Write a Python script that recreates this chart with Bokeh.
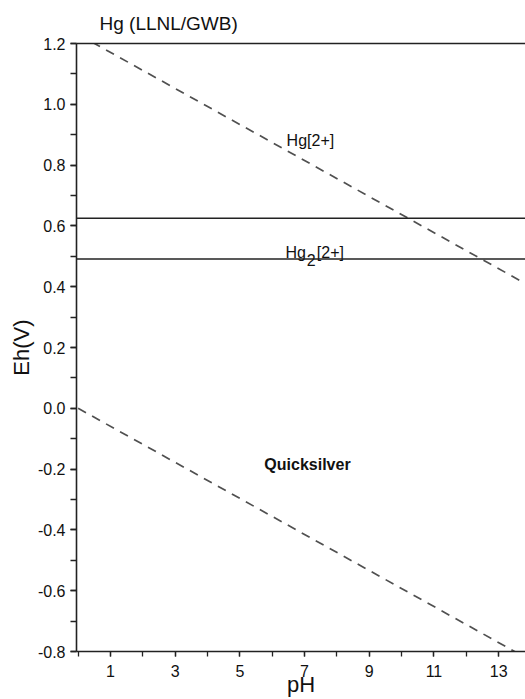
from bokeh.plotting import figure
from bokeh.models import (FixedTicker, NumeralTickFormatter, Span, LinearAxis,
                          Range1d)
from bokeh.core.properties import value
from bokeh.embed import file_html
from bokeh.resources import INLINE

# ---- data ----
x_ticks = [1, 3, 5, 7, 9, 11, 13]
x_minor = [0, 1, 2, 3, 4, 5, 6, 7, 8, 9, 10, 11, 12, 13]
y_ticks = [-0.8, -0.6, -0.4, -0.2, 0.0, 0.2, 0.4, 0.6, 0.8, 1.0, 1.2]
y_minor = [-0.8, -0.7, -0.6, -0.5, -0.4, -0.3, -0.2, -0.1, 0.0, 0.1, 0.2,
           0.3, 0.4, 0.5, 0.6, 0.7, 0.8, 0.9, 1.0, 1.1, 1.2]

water_upper_ph = [0.0, 14.0]
water_upper_eh = [1.23, 0.40]
water_lower_ph = [0.0, 14.0]
water_lower_eh = [0.0, -0.83]

boundary_eh = [0.625, 0.491]   # Hg2+/Hg2 2+ and Hg2 2+/Hg(l)

field_names = ["Hg[2+]"]
field_ph = [7.18]
field_eh = [0.882]

bold_names = ["Quicksilver"]
bold_ph = [7.09]
bold_eh = [-0.184]

# Hg2[2+] label pieces (main text, subscript)
hg2_main = ["Hg", "[2+]"]
hg2_main_ph = [6.41, 7.38]
hg2_main_eh = [0.512, 0.512]
hg2_sub = ["2"]
hg2_sub_ph = [7.07]
hg2_sub_eh = [0.489]

FONT = "Liberation Sans"
INK = "#111111"

p = figure(width=525, height=699, output_backend="svg", toolbar_location=None,
           x_range=Range1d(-0.05, 13.83), y_range=Range1d(-0.8, 1.2),
           min_border_left=76, min_border_right=0, min_border_top=43,
           min_border_bottom=46, title="Hg (LLNL/GWB)")
p.background_fill_color = "white"
p.border_fill_color = "white"
p.outline_line_color = None
p.grid.visible = False

p.title.align = "left"
p.title.offset = 23
p.title.text_font = FONT
p.title.text_font_size = "19px"
p.title.text_font_style = "normal"
p.title.text_color = INK
p.title.standoff = 20

for ax in (p.xaxis[0], p.yaxis[0]):
    ax.axis_line_width = 1.6
    ax.axis_line_color = "#222222"
    ax.major_tick_line_color = "#222222"
    ax.minor_tick_line_color = "#222222"
    ax.major_tick_line_width = 1.3
    ax.minor_tick_line_width = 1.3
    ax.major_tick_in = 0
    ax.minor_tick_in = 0
    ax.major_label_text_font = FONT
    ax.major_label_text_font_size = "16px"
    ax.major_label_text_color = INK
    ax.axis_label_text_font = FONT
    ax.axis_label_text_font_style = "normal"
    ax.axis_label_text_color = INK
    ax.axis_label_text_font_size = "22px"

p.xaxis.ticker = FixedTicker(ticks=x_ticks, minor_ticks=x_minor)
p.xaxis.major_tick_out = 5
p.xaxis.minor_tick_out = 5
p.xaxis.major_label_standoff = 8
p.xaxis.axis_label = "pH"
p.xaxis.axis_label_standoff = -8

p.yaxis.ticker = FixedTicker(ticks=y_ticks, minor_ticks=y_minor)
p.yaxis.formatter = NumeralTickFormatter(format="0.0")
p.yaxis.major_tick_out = 6
p.yaxis.minor_tick_out = 6
p.yaxis.major_label_standoff = 5
p.yaxis.axis_label = "Eh(V)"
p.yaxis.axis_label_standoff = 1

top_axis = LinearAxis(axis_line_width=1.6, axis_line_color="#222222",
                      major_tick_line_color=None, minor_tick_line_color=None,
                      major_label_text_font_size="0px", major_label_standoff=0)
top_axis.ticker = FixedTicker(ticks=[])
p.add_layout(top_axis, "above")

# water stability lines
p.line(water_upper_ph, water_upper_eh, line_color="#505050", line_width=1.7,
       line_dash="9 7")
p.line(water_lower_ph, water_lower_eh, line_color="#505050", line_width=1.7,
       line_dash="9 7")

# predominance boundaries
for eh in boundary_eh:
    p.add_layout(Span(location=eh, dimension="width", line_color="#222222",
                      line_width=1.5))

# field labels
p.text(x=field_ph, y=field_eh, text=field_names, text_font=value(FONT),
       text_font_size="16px", text_align="center", text_baseline="middle",
       text_color=INK)
p.text(x=bold_ph, y=bold_eh, text=bold_names, text_font=value(FONT),
       text_font_size="16px", text_font_style="bold", text_align="center",
       text_baseline="middle", text_color=INK)
p.text(x=hg2_main_ph, y=hg2_main_eh, text=hg2_main, text_font=value(FONT),
       text_font_size="16px", text_align="left", text_baseline="alphabetic",
       text_color=INK)
p.text(x=hg2_sub_ph, y=hg2_sub_eh, text=hg2_sub, text_font=value(FONT),
       text_font_size="16px", text_align="left", text_baseline="alphabetic",
       text_color=INK)

open("out.html", "w").write(file_html(p, INLINE))
